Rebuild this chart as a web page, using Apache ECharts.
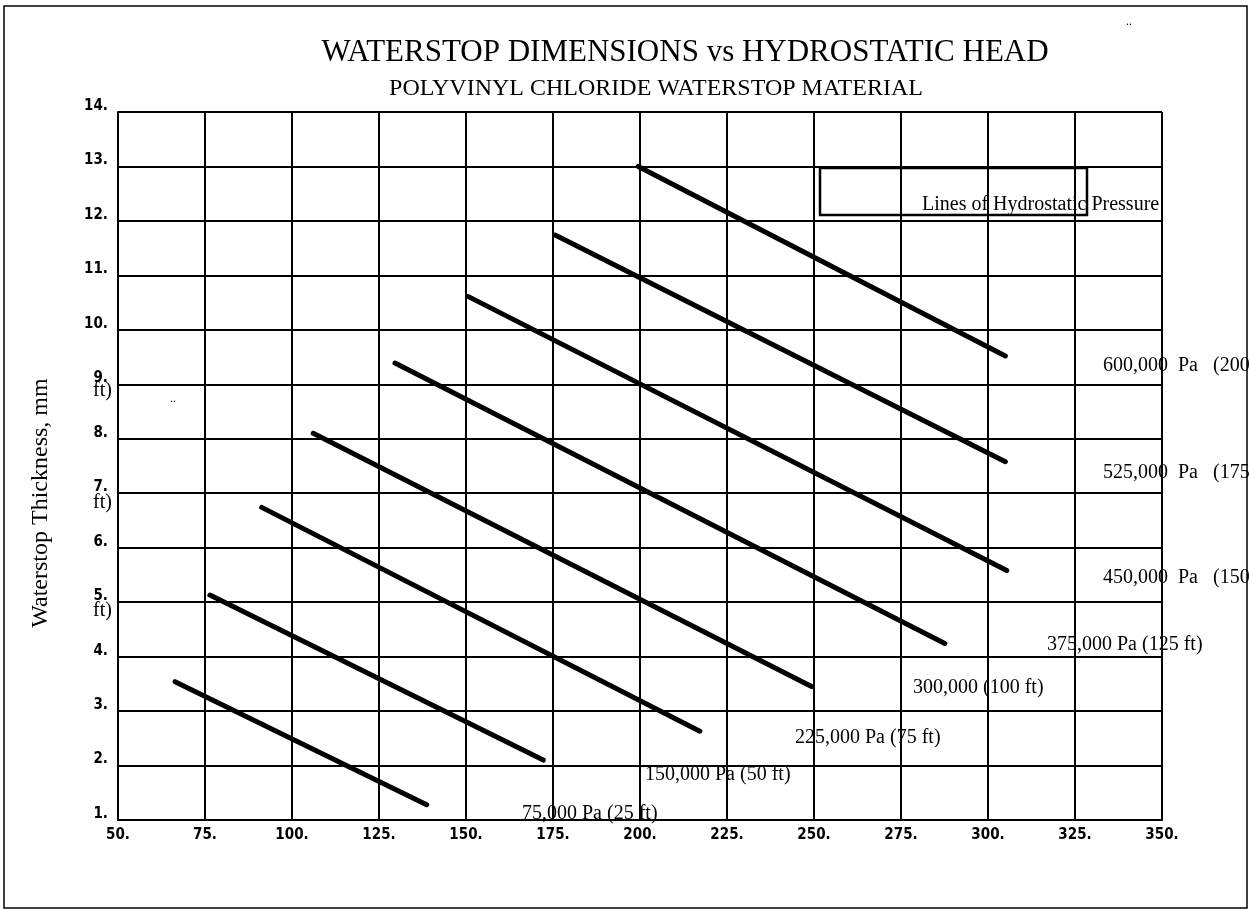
<!DOCTYPE html>
<html>
<head>
<meta charset="utf-8">
<script src="https://cdn.jsdelivr.net/npm/echarts@6/dist/echarts.min.js"></script>
<style>
  html, body { margin: 0; padding: 0; background: #fff; }
  #chart { width: 1249px; height: 909px; }
</style>
</head>
<body>
<div id="chart"></div>
<script>
// 数据：每条静水压力线的起点和终点
const pressureNames = [
  '75,000 Pa (25 ft)', '150,000 Pa (50 ft)', '225,000 Pa (75 ft)', '300,000 (100 ft)',
  '375,000 Pa (125 ft)', '450,000  Pa   (150', '525,000  Pa   (175', '600,000  Pa   (200',
];
const startHead = [66.4, 76.4, 91.3, 106.1, 129.6, 150.7, 175.6, 199.5];
const startThickness = [3.54, 5.13, 6.74, 8.1, 9.39, 10.61, 11.74, 13.0];
const endHead = [138.7, 172.2, 217.2, 249.3, 287.6, 305.4, 305.0, 305.0];
const endThickness = [1.28, 2.1, 2.63, 3.45, 4.24, 5.58, 7.58, 9.52];

const serif = '"Liberation Serif", "Times New Roman", serif';
const narrow = '"Liberation Sans Narrow", "DejaVu Sans Condensed", sans-serif';

// 标签位置（像素，左边缘与基线）
const labelPos = [
  [522, 821], [645, 782], [795, 745], [913, 695],
  [1047, 652], [1103, 585], [1103, 480], [1103, 373],
];
// 右侧被截断的文字换行到了左边
const wrapPos = [[93, 618], [93, 510], [93, 398]];

const chart = echarts.init(document.getElementById('chart'));

const series = pressureNames.map((name, i) => ({
  name: name,
  type: 'line',
  data: [[startHead[i], startThickness[i]], [endHead[i], endThickness[i]]],
  symbol: 'none',
  silent: true,
  lineStyle: { color: '#000', width: 5, cap: 'round' },
}));

const graphics = [];
graphics.push({
  type: 'rect', z: 0,
  shape: { x: 4, y: 6, width: 1243, height: 902 },
  style: { fill: 'none', stroke: '#000', lineWidth: 1.5 },
});
graphics.push({
  type: 'text', x: 685, y: 53,
  style: { text: 'WATERSTOP DIMENSIONS vs HYDROSTATIC HEAD', fontSize: 31, fontFamily: serif,
    fill: '#000', align: 'center', verticalAlign: 'middle' },
});
graphics.push({
  type: 'text', x: 656, y: 89,
  style: { text: 'POLYVINYL CHLORIDE WATERSTOP MATERIAL', fontSize: 24, fontFamily: serif,
    fill: '#000', align: 'center', verticalAlign: 'middle' },
});
graphics.push({
  type: 'text', x: 41, y: 503, rotation: Math.PI / 2,
  style: { text: 'Waterstop Thickness, mm', fontSize: 24, fontFamily: serif,
    fill: '#000', align: 'center', verticalAlign: 'middle' },
});
graphics.push({
  type: 'rect', z: 10,
  shape: { x: 820, y: 168, width: 267, height: 47 },
  style: { fill: 'none', stroke: '#000', lineWidth: 2.5 },
});
graphics.push({
  type: 'text', z: 11, x: 922, y: 205,
  style: { text: 'Lines of Hydrostatic Pressure', fontSize: 20, fontFamily: serif,
    fill: '#000', align: 'left', verticalAlign: 'middle' },
});
pressureNames.forEach((name, i) => {
  graphics.push({
    type: 'text', z: 11, x: labelPos[i][0], y: labelPos[i][1] - 7,
    style: { text: name, fontSize: 20, fontFamily: serif, fill: '#000',
      align: 'left', verticalAlign: 'middle' },
  });
});
wrapPos.forEach(p => {
  graphics.push({
    type: 'text', z: 11, x: p[0], y: p[1] - 7,
    style: { text: 'ft)', fontSize: 20, fontFamily: serif, fill: '#000',
      align: 'left', verticalAlign: 'middle' },
  });
});
// 扫描件上的小污点
[[1126, 16], [170, 393]].forEach(p => {
  graphics.push({
    type: 'text', x: p[0], y: p[1],
    style: { text: '..', fontSize: 12, fontFamily: serif, fill: '#000' },
  });
});

chart.setOption({
  animation: false,
  backgroundColor: '#fff',
  grid: { left: 118, top: 112, right: 87, bottom: 89, containLabel: false },
  xAxis: {
    type: 'value',
    min: 50, max: 350, interval: 25,
    axisLine: { show: true, lineStyle: { color: '#000', width: 2 } },
    axisTick: { show: false },
    splitLine: { show: true, lineStyle: { color: '#000', width: 2 } },
    axisLabel: {
      formatter: v => v + '.', margin: 8,
      fontFamily: narrow, fontWeight: 'bold', fontSize: 15, color: '#000',
    },
  },
  yAxis: {
    type: 'value',
    min: 1, max: 14, interval: 1,
    axisLine: { show: true, lineStyle: { color: '#000', width: 2 } },
    axisTick: { show: false },
    splitLine: { show: true, lineStyle: { color: '#000', width: 2 } },
    axisLabel: {
      formatter: v => v + '.', margin: 10, verticalAlign: 'bottom', lineHeight: 12,
      fontFamily: narrow, fontWeight: 'bold', fontSize: 15, color: '#000',
    },
  },
  series: series,
  graphic: graphics,
});
</script>
</body>
</html>
